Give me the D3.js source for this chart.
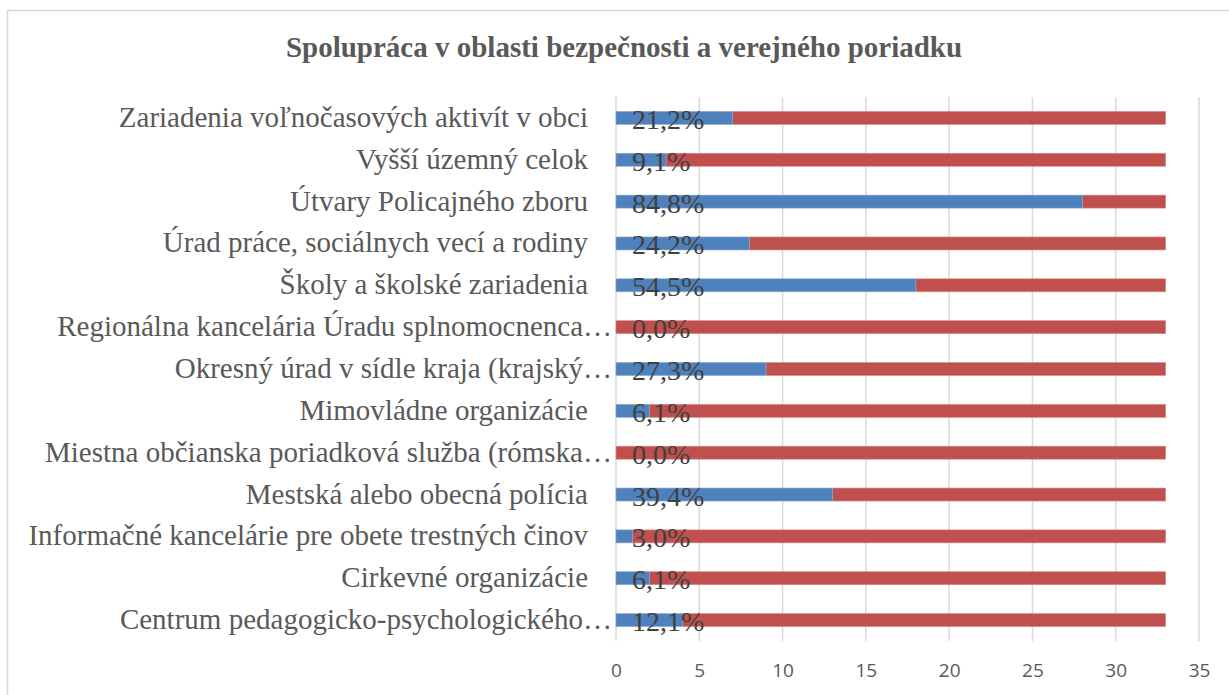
<!DOCTYPE html>
<html><head><meta charset="utf-8">
<script src="https://cdn.jsdelivr.net/npm/d3@7"></script>
<style>body{margin:0;background:#fff}svg{display:block}</style>
</head><body>
<svg id="c" width="1229" height="695"></svg>
<script>
const categories = [
  "Zariadenia voľnočasových aktivít v obci",
  "Vyšší územný celok",
  "Útvary Policajného zboru",
  "Úrad práce, sociálnych vecí a rodiny",
  "Školy a školské zariadenia",
  "Regionálna kancelária Úradu splnomocnenca…",
  "Okresný úrad v sídle kraja (krajský…",
  "Mimovládne organizácie",
  "Miestna občianska poriadková služba (rómska…",
  "Mestská alebo obecná polícia",
  "Informačné kancelárie pre obete trestných činov",
  "Cirkevné organizácie",
  "Centrum pedagogicko-psychologického…"
];
const yesValues = [7, 3, 28, 8, 18, 0, 9, 2, 0, 13, 1, 2, 4];
const noValues  = [26, 30, 5, 25, 15, 33, 24, 31, 33, 20, 32, 31, 29];
const percentLabels = ["21,2%","9,1%","84,8%","24,2%","54,5%","0,0%","27,3%","6,1%","0,0%","39,4%","3,0%","6,1%","12,1%"];
const xTicks = [0, 5, 10, 15, 20, 25, 30, 35];
const title = "Spolupráca v oblasti bezpečnosti a verejného poriadku";

const svg = d3.select("#c");
// chart border
svg.append("rect").attr("x",7.5).attr("y",10.5).attr("width",1240).attr("height",720)
  .attr("fill","none").attr("stroke","#d9d9d9").attr("stroke-width",1.5);

const x = d3.scaleLinear().domain([0,35]).range([616,1199]);
const y = d3.scaleBand().domain(categories).range([97,641]);

// gridlines
svg.append("g").selectAll("line").data(xTicks).join("line")
  .attr("x1",d=>x(d)).attr("x2",d=>x(d)).attr("y1",97).attr("y2",641)
  .attr("stroke","#d9d9d9").attr("stroke-width",1.5);

const barH = 13;
const rows = categories.map((c,i)=>({c, yes:yesValues[i], no:noValues[i], lab:percentLabels[i]}));
const g = svg.append("g");
g.selectAll(".no").data(rows).join("rect")
  .attr("x",d=>x(d.yes)).attr("width",d=>x(d.yes+d.no)-x(d.yes))
  .attr("y",d=>y(d.c)+y.bandwidth()/2-barH/2).attr("height",barH)
  .attr("fill","#C0504D").attr("stroke","#d88d8b").attr("stroke-width",0.6);
g.selectAll(".yes").data(rows.filter(d=>d.yes>0)).join("rect")
  .attr("x",x(0)).attr("width",d=>x(d.yes)-x(0))
  .attr("y",d=>y(d.c)+y.bandwidth()/2-barH/2).attr("height",barH)
  .attr("fill","#4F81BD").attr("stroke","#8aa9d3").attr("stroke-width",0.6);

// percent labels
g.selectAll(".pl").data(rows).join("text")
  .attr("x",x(0)+16).attr("y",d=>y(d.c)+y.bandwidth()/2+11)
  .attr("font-family","'Liberation Serif','Times New Roman',serif").attr("font-size",28)
  .attr("fill","#404040").text(d=>d.lab);

// category labels
const yAxis = d3.axisLeft(y).tickSize(0).tickPadding(0);
const ya = svg.append("g").attr("transform","translate(588,0)").call(yAxis);
ya.select(".domain").remove();
ya.selectAll("text").attr("font-family","'Liberation Serif','Times New Roman',serif")
  .attr("font-size",29).attr("fill","#595959").attr("dy",null)
  .attr("y",9).attr("x",d=>d.endsWith("…") ? 24 : 0);

// x axis
const xAxis = d3.axisBottom(x).tickValues(xTicks).tickSize(0).tickPadding(0);
const xa = svg.append("g").attr("transform","translate(0,677)").call(xAxis);
xa.select(".domain").remove();
xa.selectAll("text").attr("font-family","'Open Sans','Liberation Sans',sans-serif")
  .attr("font-size",19).attr("fill","#595959").attr("dy",null).attr("y",0);

// title
svg.append("text").attr("x",624).attr("y",57).attr("text-anchor","middle")
  .attr("font-family","'Liberation Serif','Times New Roman',serif").attr("font-weight","bold")
  .attr("font-size",29).attr("fill","#595959").text(title);
</script>
</body></html>
